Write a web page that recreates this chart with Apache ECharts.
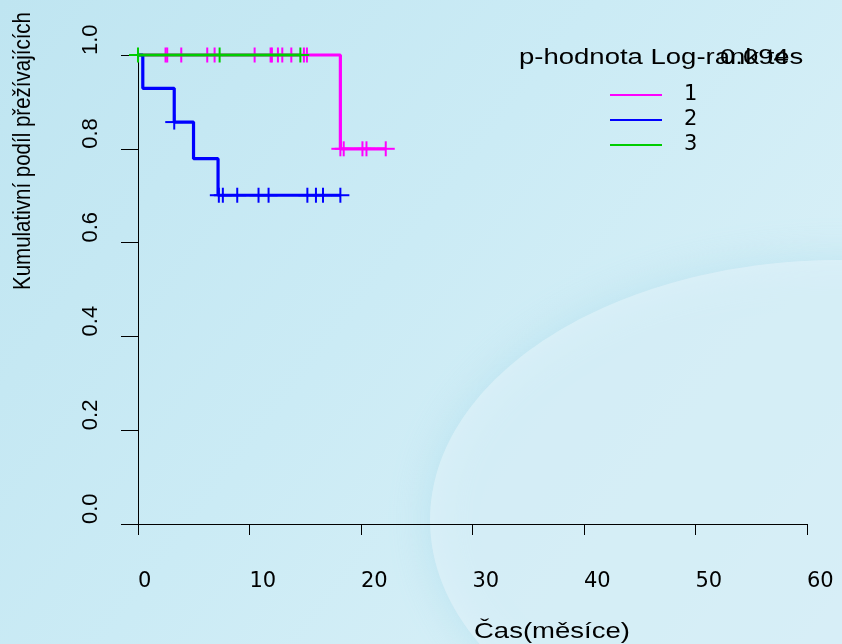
<!DOCTYPE html>
<html>
<head>
<meta charset="utf-8">
<script src="https://cdn.jsdelivr.net/npm/echarts@6/dist/echarts.min.js"></script>
<style>
  html, body { margin: 0; padding: 0; }
  #chart { width: 842px; height: 644px; }
</style>
</head>
<body>
<div id="chart"></div>
<script>
// Kaplan–Meier curves per group: step times and survival after each step
const groups = ['1', '2', '3'];
const groupColors = ['#FF00FF', '#0000FF', '#00CD00'];

const g1Times = [0, 18.15, 22.22];
const g1Surv = [1, 0.8, 0.8];
const g1Censor = [2.47, 2.62, 3.88, 6.21, 6.87, 10.46, 11.89, 12.01, 12.55, 12.94, 13.75, 14.88, 15.15, 18.15, 18.45, 20.13, 20.49, 22.22];

const g2Times = [0, 0.43, 3.25, 4.98, 7.18, 18.15];
const g2Surv = [1, 0.929, 0.857, 0.779, 0.701, 0.701];
const g2Censor = [3.25, 7.25, 7.61, 8.90, 10.81, 11.71, 15.19, 15.96, 16.59, 18.15];

const g3Times = [0, 14.56];
const g3Surv = [1, 1];
const g3Censor = [0.0, 7.32, 14.56];

const xMin = 0, xMax = 60, xStep = 10;
const yMin = 0, yMax = 1, yStep = 0.2;

const pValueText = '0.094';
const legendTitle = 'p-hodnota Log-rank testu';
const xTitle = 'Čas(měsíce)';
const yTitle = 'Kumulativní podíl přežívajících';

// survival level of a step curve at time t (value after any step at t)
function levelAt(times, surv, t) {
  let s = surv[0];
  for (let i = 0; i < times.length; i++) if (times[i] <= t) s = surv[i];
  return s;
}

const curves = [
  { times: g1Times, surv: g1Surv, censor: g1Censor },
  { times: g2Times, surv: g2Surv, censor: g2Censor },
  { times: g3Times, surv: g3Surv, censor: g3Censor }
];

const series = [];
curves.forEach((c, i) => {
  const color = groupColors[i];
  series.push({
    name: groups[i],
    type: 'line',
    step: 'end',
    color: color,
    showSymbol: false,
    clip: false,
    silent: true,
    z: 2 + i * 2,
    lineStyle: { color: color, width: 3.2 },
    data: c.times.map((t, k) => [t, c.surv[k]])
  });
  // censoring marks drawn as "+"
  series.push({
    name: groups[i],
    type: 'custom',
    color: color,
    silent: true,
    z: 3 + i * 2,
    data: c.censor.map(t => [t, levelAt(c.times, c.surv, t)]),
    renderItem: (params, api) => {
      const p = api.coord([api.value(0), api.value(1)]);
      return {
        type: 'group',
        children: [
          { type: 'line', shape: { x1: p[0], y1: p[1] - 7.5, x2: p[0], y2: p[1] + 7.5 },
            style: { stroke: color, lineWidth: 2 } },
          { type: 'line', shape: { x1: p[0] - 9, y1: p[1], x2: p[0] + 9, y2: p[1] },
            style: { stroke: color, lineWidth: 2 } }
        ]
      };
    }
  });
});

const chart = echarts.init(document.getElementById('chart'), null, { renderer: 'canvas' });

chart.setOption({
  animation: false,
  backgroundColor: {
    type: 'linear', x: 0, y: 0, x2: 1, y2: 1,
    colorStops: [
      { offset: 0, color: '#bfe5f1' },
      { offset: 0.45, color: '#cbebf5' },
      { offset: 1, color: '#def2f8' }
    ]
  },
  grid: { left: 138, right: 35, top: 55, bottom: 120, containLabel: false },
  xAxis: {
    type: 'value',
    min: xMin, max: xMax, interval: xStep,
    offset: 20,
    splitLine: { show: false },
    axisLine: { show: true, lineStyle: { color: '#000', width: 1 } },
    axisTick: { show: true, length: 11, lineStyle: { color: '#000', width: 1 } },
    axisLabel: {
      color: '#000', fontFamily: 'DejaVu Sans', fontSize: 21,
      align: 'left', verticalAlign: 'middle', margin: 38,
      showMinLabel: true, showMaxLabel: true
    }
  },
  yAxis: {
    type: 'value',
    min: yMin, max: yMax, interval: yStep,
    splitLine: { show: false },
    axisLine: { show: true, lineStyle: { color: '#000', width: 1 } },
    axisTick: { show: true, length: 17, lineStyle: { color: '#000', width: 1 } },
    axisLabel: {
      color: '#000', fontFamily: 'Liberation Sans', fontSize: 22,
      rotate: 90, align: 'left', verticalAlign: 'middle', margin: 47,
      formatter: v => v.toFixed(1)
    }
  },
  legend: {
    data: groups,
    orient: 'vertical',
    left: 610, top: 82.5,
    padding: 0,
    icon: 'rect',
    itemWidth: 52, itemHeight: 2, itemGap: 0,
    selectedMode: false,
    textStyle: {
      color: '#000', fontFamily: 'DejaVu Sans', fontSize: 21,
      lineHeight: 25, padding: [0, 0, 0, 17]
    }
  },
  graphic: [
    {
      // pale sweep in the lower right of the backdrop
      type: 'ellipse', z: -10, silent: true,
      shape: { cx: 840, cy: 520, rx: 410, ry: 260 },
      style: {
        fill: 'rgba(228,244,250,0.6)',
        shadowBlur: 40, shadowColor: 'rgba(140,208,230,0.55)'
      }
    },
    {
      type: 'text', x: 519, y: 58, scaleX: 1.25, z: 10,
      style: {
        text: legendTitle, fill: '#000',
        font: '22px "Liberation Sans"', textVerticalAlign: 'middle',
        width: 236, overflow: 'truncate', ellipsis: ''
      }
    },
    {
      type: 'text', x: 720, y: 58, scaleX: 1.25, z: 10,
      style: {
        text: pValueText, fill: '#000',
        font: '22px "Liberation Sans"', textVerticalAlign: 'middle'
      }
    },
    {
      type: 'text', x: 474, y: 632, scaleX: 1.25, z: 10,
      style: {
        text: xTitle, fill: '#000',
        font: '22px "Liberation Sans"', textVerticalAlign: 'middle'
      }
    },
    {
      type: 'text', x: 23, y: 290, rotation: Math.PI / 2, scaleY: 1.2, z: 10,
      style: {
        text: yTitle, fill: '#000',
        font: '20.5px "Liberation Sans"', textVerticalAlign: 'middle'
      }
    }
  ],
  series: series
});
</script>
</body>
</html>
